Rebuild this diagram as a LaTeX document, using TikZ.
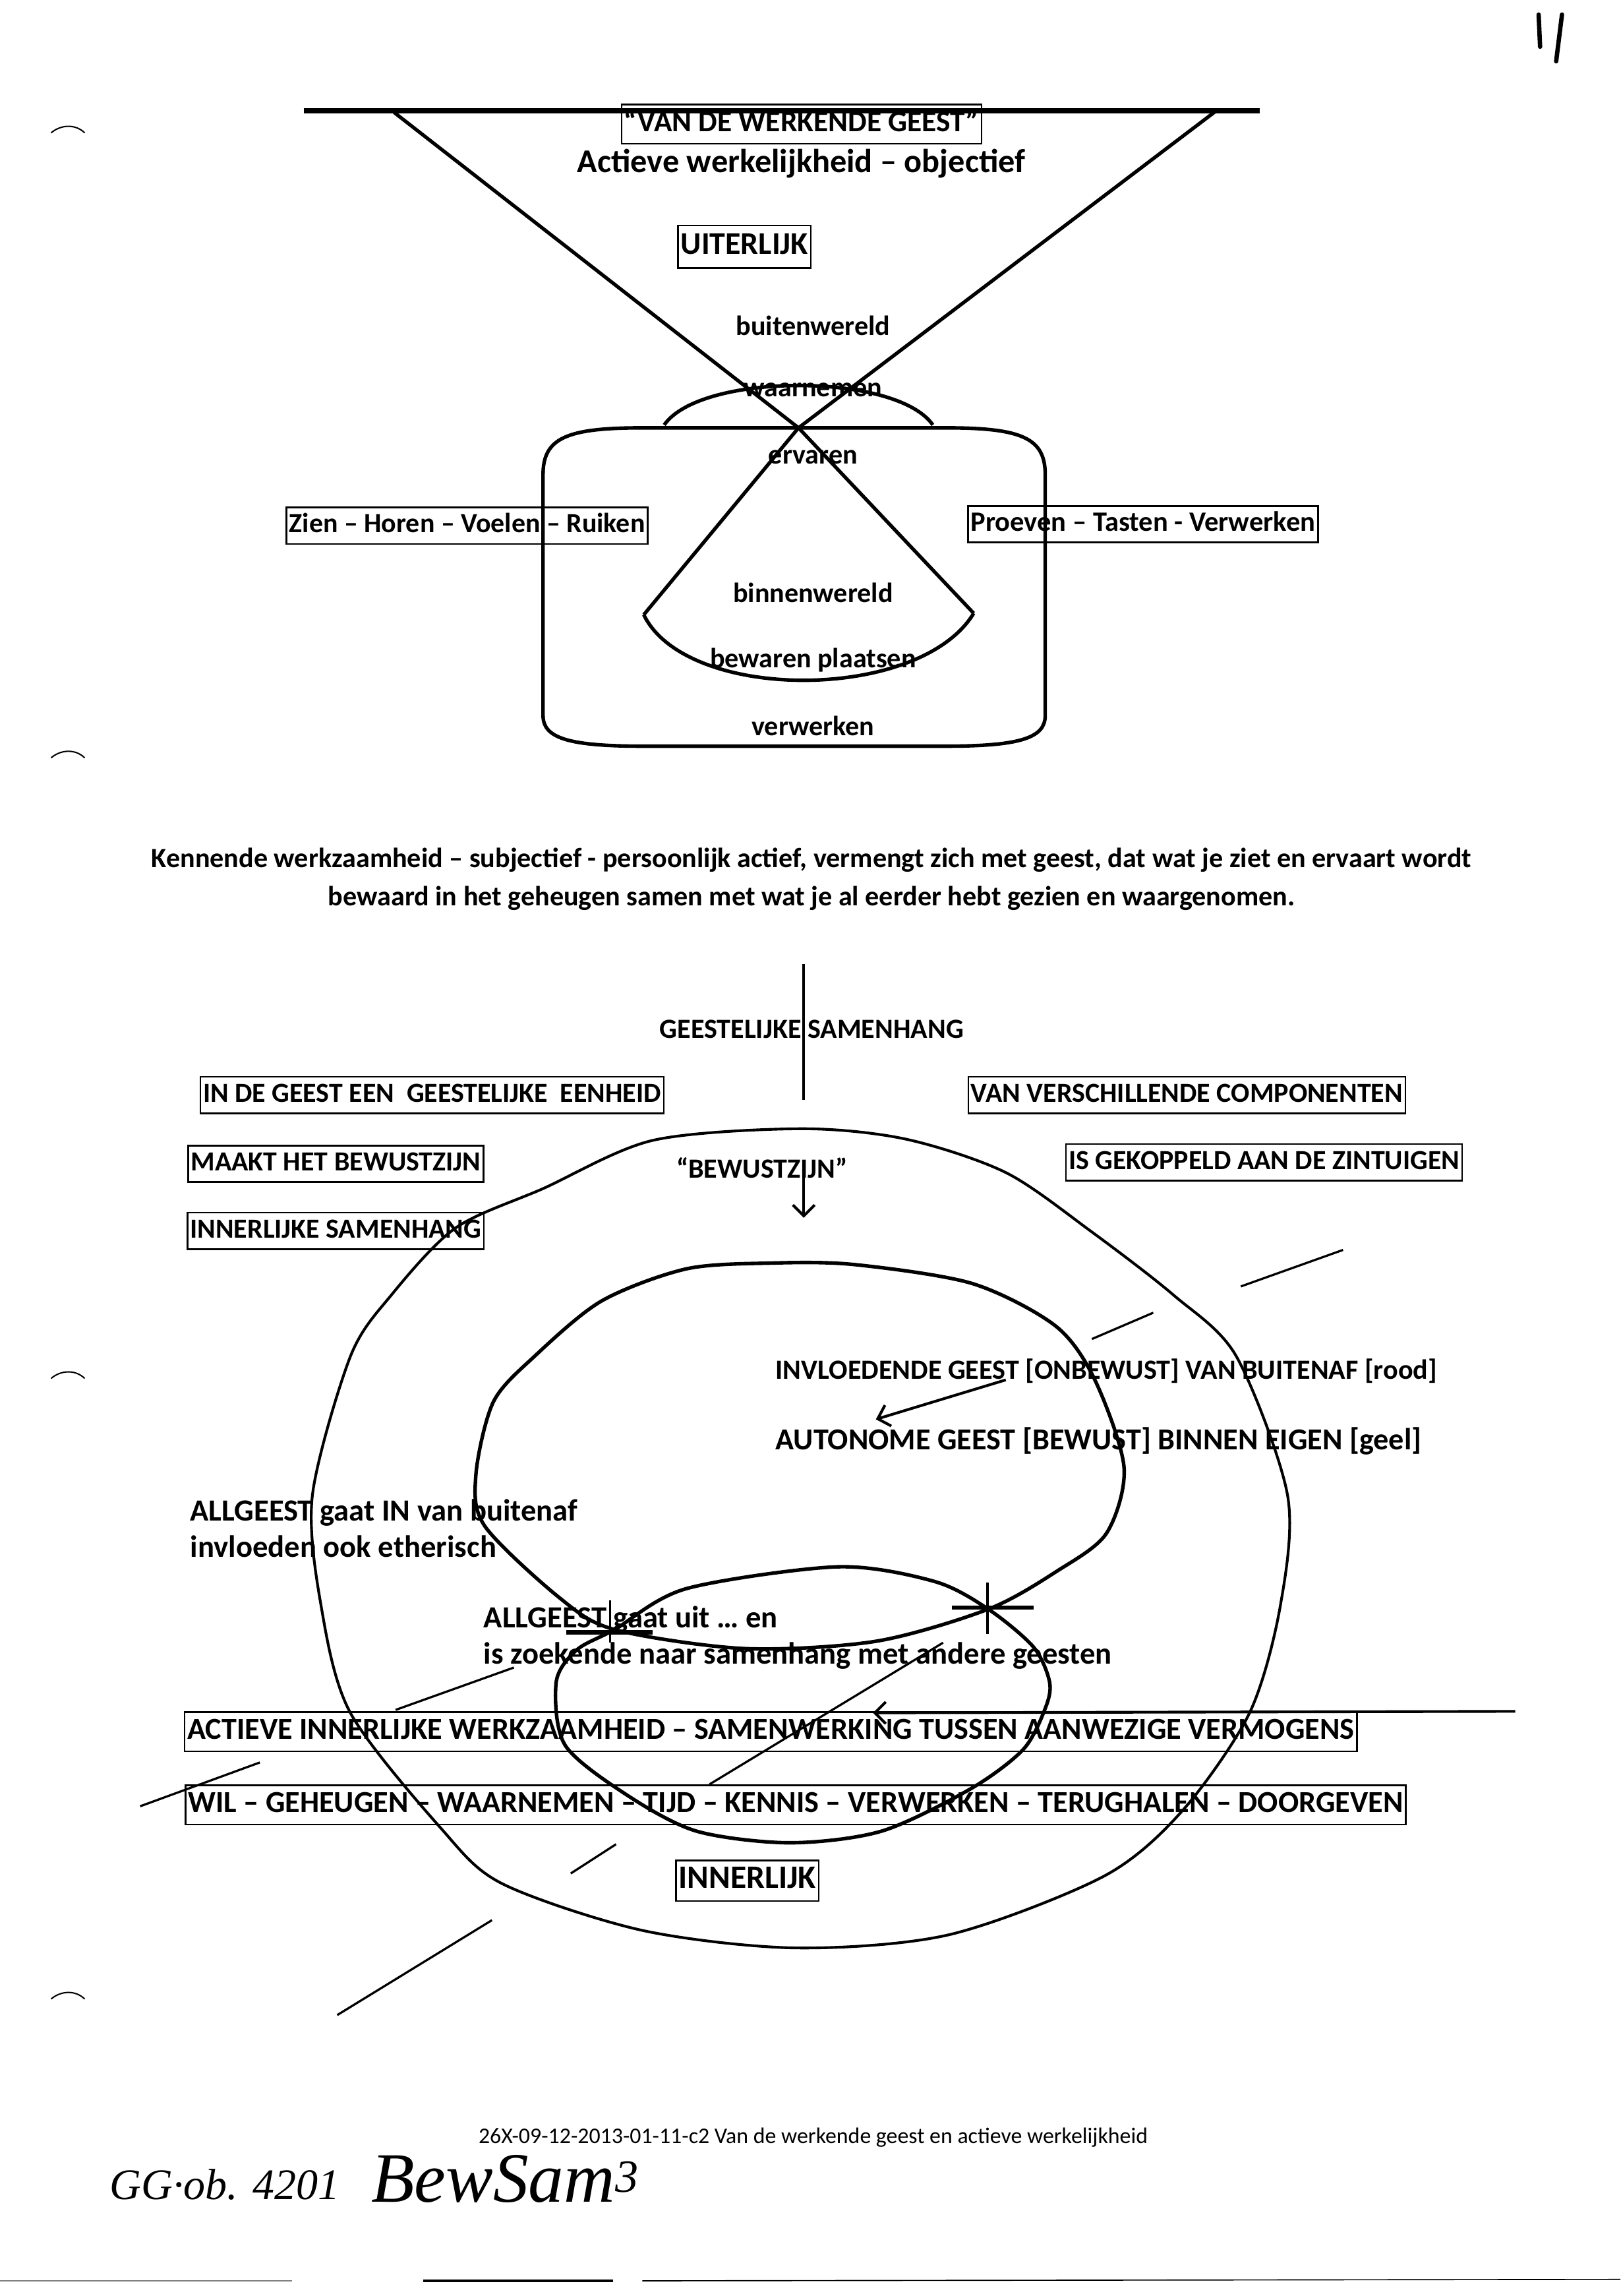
\documentclass[tikz,border=0pt]{standalone}
\usepackage{fontspec}
\setmainfont{Carlito}
\newfontfamily\handfont{Liberation Serif}
\usetikzlibrary{arrows.meta}

\tikzset{
  tekst/.style={font=\bfseries\fontsize{10.2}{12}\selectfont, inner sep=0pt},
  groot/.style={font=\bfseries\fontsize{11.3}{13}\selectfont, inner sep=0pt},
  kader/.style={draw, line width=0.6pt, inner xsep=1pt, inner ysep=2pt,
    text height=7.2pt, text depth=2.2pt, font=\bfseries\fontsize{10.15}{12}\selectfont},
  kadergroot/.style={kader, text height=8pt, text depth=2.4pt,
    font=\bfseries\fontsize{11.2}{13}\selectfont},
  lijn/.style={line width=1.3pt, line join=round},
  dun/.style={line width=0.8pt},
  pijl/.style={line width=1pt, -{Straight Barb[length=4pt,width=8pt]}},
}

\begin{document}
\begin{tikzpicture}[x=0.5363pt, y=-0.5363pt]
  \useasboundingbox (0,0) rectangle (1110,1572.4);

  % page number and punch marks
  \draw[line width=1.6pt, line cap=round] (1054,10) -- (1055,32);
  \draw[line width=1.6pt, line cap=round] (1070,10) -- (1066,42);
  \foreach \y in {88,516,941,1366}
    \draw[line width=0.5pt] (35,\y+3) .. controls (42,\y-3) and (52,\y-3) .. (58,\y+3);

  % ---- van de werkende geest ----
  \coordinate (trechterL) at (270,77);
  \coordinate (trechterR) at (833,76);
  \coordinate (kruis) at (547,293);
  \coordinate (kegelL) at (441,421);
  \coordinate (kegelR) at (667,420);
  \draw[line width=2pt] (208,76) -- (863,76);
  \draw[lijn] (trechterL) -- (kruis) -- (trechterR);
  \draw[lijn] (kegelL) -- (kruis) -- (kegelR);
  \draw[lijn] (kegelL) .. controls (470,481) and (630,481) .. (kegelR);
  \draw[lijn] (455,291) .. controls (480,255) and (614,255) .. (639,291);
  \draw[lijn] (440,293) -- (648,293) .. controls (700,293) and (716,300) .. (716,325)
    -- (716,490) .. controls (716,505) and (700,511) .. (648,511) -- (440,511)
    .. controls (388,511) and (372,505) .. (372,490) -- (372,325)
    .. controls (372,300) and (388,293) .. (440,293) -- cycle;

  \node[kadergroot, font=\bfseries\fontsize{11}{13}\selectfont] (werkend) at (549,85) {“VAN DE WERKENDE GEEST”};
  \node[tekst, font=\bfseries\fontsize{12.2}{14}\selectfont] (actief) at (549,112) {Actieve werkelijkheid – objectief};
  \node[kadergroot, font=\bfseries\fontsize{11.6}{14}\selectfont, inner ysep=2.6pt] (uiterlijk) at (510,169) {UITERLIJK};
  \node[tekst] (buiten) at (557,223) {buitenwereld};
  \node[tekst] (waarnemen) at (557,267) {waarnemen};
  \node[tekst] (ervaren) at (557,313) {ervaren};
  \node[kader] (zintuigL) at (320,360) {Zien – Horen – Voelen – Ruiken};
  \node[kader, font=\bfseries\fontsize{10.3}{12}\selectfont] (zintuigR) at (783,359) {Proeven – Tasten - Verwerken};
  \node[tekst] (binnen) at (557,406) {binnenwereld};
  \node[tekst] (bewaren) at (557,452) {bewaren plaatsen};
  \node[tekst] (verwerken) at (557,497) {verwerken};

  \node[tekst] (kennend1) at (556,589) {Kennende werkzaamheid – subjectief - persoonlijk actief, vermengt zich met geest, dat wat je ziet en ervaart wordt};
  \node[tekst] (kennend2) at (556,615) {bewaard in het geheugen samen met wat je al eerder hebt gezien en waargenomen.};

  % ---- bewustzijn ----
  \node[tekst] (samenhang) at (556,705) {GEESTELIJKE SAMENHANG};
  \draw[line width=1pt] (550.6,660) -- (550.6,753);
  \node[kader] (eenheid) at (296,750) {IN DE GEEST EEN\ \ GEESTELIJKE\ \ EENHEID};
  \node[kader] (componenten) at (813,750) {VAN VERSCHILLENDE COMPONENTEN};
  \node[kader] (maakt) at (230,797) {MAAKT HET BEWUSTZIJN};
  \node[kader] (gekoppeld) at (866,796) {IS GEKOPPELD AAN DE ZINTUIGEN};
  \node[kader] (innerlijk) at (230,843) {INNERLIJKE SAMENHANG};
  \node[tekst] (bewustzijn) at (522,800) {“BEWUSTZIJN”};
  \coordinate (pijlA) at (550.6,805);
  \coordinate (pijlB) at (550.6,834);
  \draw[pijl] (pijlA) -- (pijlB);

  % buitenste ovaal
  \draw[line width=1pt] plot[smooth cycle] coordinates {
    (548,773) (620,780) (689,803) (747,843) (804,887) (847,929) (882,1024)
    (877,1100) (856,1173) (810,1240) (756,1285) (650,1325) (545,1334)
    (440,1322) (344,1290) (302,1252) (240,1173) (220,1100) (214,1024)
    (240,929) (268,887) (312,841) (372,814) (447,781)};
  % bovenste lus
  \draw[lijn] plot[smooth cycle] coordinates {
    (528,865) (585,866) (666,879) (723,908) (750,945) (770,1005) (758,1050)
    (724,1076) (677,1102) (600,1124) (510,1129) (421,1116) (383,1094)
    (332,1045) (326,1010) (338,960) (366,929) (412,891) (470,869)};
  % onderste lus
  \draw[lijn] plot[smooth cycle] coordinates {
    (421,1116) (470,1088) (574,1073) (640,1083) (677,1102) (708,1128)
    (719,1152) (716,1170) (701,1198) (665,1225) (604,1254) (541,1262)
    (477,1254) (429,1229) (387,1195) (381,1152) (395,1130)};
  % kruisjes
  \draw[line width=0.8pt] (418,1096) -- (418,1125);
  \draw[line width=1.6pt] (388,1118) -- (447,1118);
  \draw[line width=0.8pt] (676.5,1084) -- (676.5,1119);
  \draw[line width=1.6pt] (652,1101) -- (708,1101);

  \node[tekst, anchor=west] (invloedend) at (531,939) {INVLOEDENDE GEEST [ONBEWUST] VAN BUITENAF [rood]};
  \node[groot, anchor=west, font=\bfseries\fontsize{11.2}{13}\selectfont] (autonoom) at (531,987) {AUTONOME GEEST [BEWUST] BINNEN EIGEN [geel]};
  \coordinate (invA) at (689,945);
  \coordinate (invB) at (600,972);
  \draw[pijl] (invA) -- (invB);
  \node[groot, anchor=west] (allgeestIn) at (130,1036) {ALLGEEST gaat IN van buitenaf};
  \node[groot, anchor=west] (invloeden) at (130,1059) {invloeden ook etherisch};
  \node[groot, anchor=west] (allgeestUit) at (331,1109) {ALLGEEST gaat uit … en};
  \node[groot, anchor=west] (zoekend) at (331,1134) {is zoekende naar samenhang met andere geesten};

  % losse streepjes
  \draw[dun] (920,856) -- (850,881);
  \draw[dun] (790,899) -- (748,917);
  \draw[dun] (271,1171) -- (352,1142);
  \draw[dun] (486,1222) -- (646,1125);
  \draw[dun] (96,1237) -- (178,1207);
  \draw[dun] (391,1283) -- (422,1263);
  \draw[dun] (231,1380) -- (337,1315);

  \node[kadergroot] (activiteit) at (528,1186) {ACTIEVE INNERLIJKE WERKZAAMHEID – SAMENWERKING TUSSEN AANWEZIGE VERMOGENS};
  \coordinate (samenA) at (1038,1172);
  \coordinate (samenB) at (598,1173);
  \draw[pijl] (samenA) -- (samenB);
  \node[kadergroot] (vermogens) at (545,1236) {WIL – GEHEUGEN – WAARNEMEN – TIJD – KENNIS – VERWERKEN – TERUGHALEN – DOORGEVEN};
  \node[kadergroot, font=\bfseries\fontsize{12}{14}\selectfont, inner ysep=2.2pt] (innerlijkB) at (512,1288) {INNERLIJK};

  % voettekst
  \node[inner sep=0pt, font=\fontsize{8.2}{10}\selectfont] (voet) at (557,1464) {26X-09-12-2013-01-11-c2 Van de werkende geest en actieve werkelijkheid};
  \node[inner sep=0pt, anchor=base west, font=\handfont\itshape\fontsize{16}{16}\selectfont] (hand1) at (75,1506) {GG·ob. 4201};
  \node[inner sep=0pt, anchor=base west, font=\handfont\itshape\fontsize{26}{26}\selectfont] (hand2) at (254,1508) {BewSam\raisebox{0.3ex}{\fontsize{17}{17}\selectfont 3}};
  \draw[line width=0.4pt, gray] (0,1562) -- (200,1562);
  \draw[line width=0.8pt] (290,1562) -- (420,1562);
  \draw[line width=0.4pt] (440,1562) -- (1110,1561);
\end{tikzpicture}
\end{document}
